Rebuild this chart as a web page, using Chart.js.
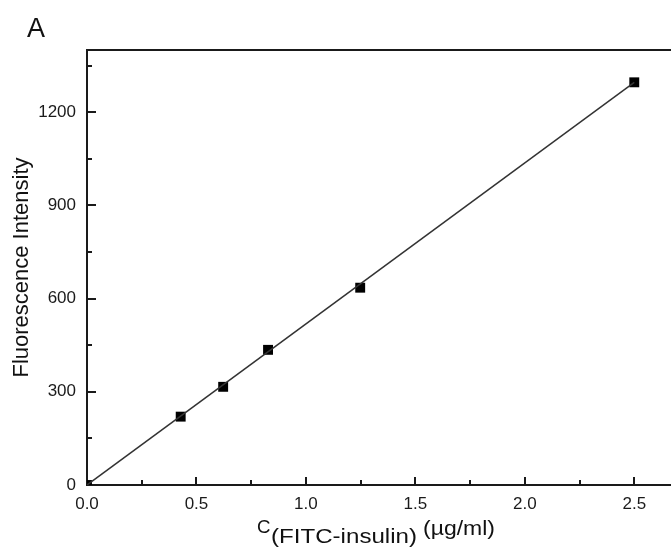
<!DOCTYPE html>
<html><head><meta charset="utf-8">
<script src="https://cdn.jsdelivr.net/npm/chart.js@4.4.0/dist/chart.umd.min.js"></script>
<style>
html,body{margin:0;padding:0;background:#fff;overflow:hidden;width:671px;height:554px}
#wrap{position:relative;width:700px;height:554px}
</style></head><body>
<div id="wrap"><canvas id="c" width="700" height="554"></canvas></div>
<script>
const concentration = [0, 0.428, 0.622, 0.827, 1.248, 2.5];
const intensity = [0, 220, 316, 435, 635, 1296];
const fitX = [0, 2.5];
const fitY = [0, 1296];
const xTickValues = [0, 0.5, 1, 1.5, 2, 2.5];
const xMinorValues = [0.25, 0.75, 1.25, 1.75, 2.25];
const yTickValues = [0, 300, 600, 900, 1200];
const yMinorValues = [150, 450, 750, 1050, 1350];
const xTitleParts = ['C', '(FITC-insulin)', '(\u00b5g/ml)'];
const yTitle = 'Fluorescence Intensity';
const panelLabel = 'A';

const FONT = '"Liberation Sans", Arial, Helvetica, sans-serif';
const INK = '#1a1a1a';

const framePlugin = {
  id: 'frame',
  afterDraw(chart) {
    const {ctx, chartArea: a, scales: {x, y}} = chart;
    ctx.save();
    ctx.strokeStyle = INK;
    ctx.lineWidth = 2;
    ctx.lineCap = 'butt';
    // top frame line
    ctx.beginPath();
    ctx.moveTo(a.left - 1, a.top);
    ctx.lineTo(a.right + 20, a.top);
    ctx.stroke();
    // inward ticks
    const xt = (vals, len) => vals.forEach(v => {
      const px = Math.round(x.getPixelForValue(v));
      ctx.beginPath(); ctx.moveTo(px, a.bottom); ctx.lineTo(px, a.bottom - len); ctx.stroke();
    });
    const yt = (vals, len) => vals.forEach(v => {
      const py = Math.round(y.getPixelForValue(v));
      ctx.beginPath(); ctx.moveTo(a.left, py); ctx.lineTo(a.left + len, py); ctx.stroke();
    });
    xt(xTickValues.slice(1), 8); xt(xMinorValues, 5);
    yt(yTickValues.slice(1), 9); yt(yMinorValues, 5);

    // x title with subscript
    ctx.fillStyle = '#111';
    ctx.textBaseline = 'alphabetic';
    ctx.textAlign = 'left';
    const L = a.left;
    const fit = (txt, size, x0, base, width) => {
      ctx.font = size + 'px ' + FONT;
      const w = ctx.measureText(txt).width;
      ctx.save(); ctx.translate(x0, base); ctx.scale(width / w, 1);
      ctx.fillText(txt, 0, 0); ctx.restore();
    };
    fit(xTitleParts[0], 19, L + 170, 533, 13.5);
    fit(xTitleParts[1], 20, L + 184, 543, 146);
    fit(xTitleParts[2], 20, L + 336, 535, 72);

    // panel label
    ctx.font = '27px ' + FONT;
    ctx.fillText(panelLabel, 27, 37);
    ctx.restore();
  }
};

new Chart(document.getElementById('c'), {
  type: 'scatter',
  data: {
    datasets: [
      {
        data: fitX.map((v, i) => ({x: v, y: fitY[i]})),
        showLine: true,
        borderColor: '#333',
        borderWidth: 1.5,
        pointRadius: 0,
        fill: false
      },
      {
        data: concentration.map((v, i) => ({x: v, y: intensity[i]})),
        showLine: false,
        pointStyle: 'rect',
        pointRadius: 7,
        pointBackgroundColor: '#000',
        pointBorderColor: '#000',
        pointBorderWidth: 0,
        clip: 0
      }
    ]
  },
  options: {
    responsive: false,
    animation: false,
    events: [],
    layout: {padding: {top: 50, right: 11, left: 0, bottom: 0}},
    plugins: {legend: {display: false}, tooltip: {enabled: false}},
    scales: {
      x: {
        type: 'linear', min: 0, max: 2.75,
        grid: {display: false, drawTicks: false},
        border: {display: true, color: INK, width: 2},
        afterBuildTicks: s => { s.ticks = xTickValues.map(v => ({value: v})); },
        afterFit: s => { s.height = 69; },
        ticks: {
          color: INK, padding: 9,
          font: {family: FONT, size: 17},
          callback: v => Number(v).toFixed(1)
        }
      },
      y: {
        type: 'linear', min: 0, max: 1400,
        grid: {display: false, drawTicks: false},
        border: {display: true, color: INK, width: 2},
        afterBuildTicks: s => { s.ticks = yTickValues.map(v => ({value: v})); },
        afterFit: s => { s.width = 87; },
        ticks: {
          color: INK, padding: 11,
          font: {family: FONT, size: 17},
          callback: v => String(v)
        },
        title: {
          display: true, text: yTitle, color: '#111',
          font: {family: FONT, size: 22},
          padding: {top: 9, bottom: 0}
        }
      }
    }
  },
  plugins: [framePlugin]
});
</script>
</body></html>
